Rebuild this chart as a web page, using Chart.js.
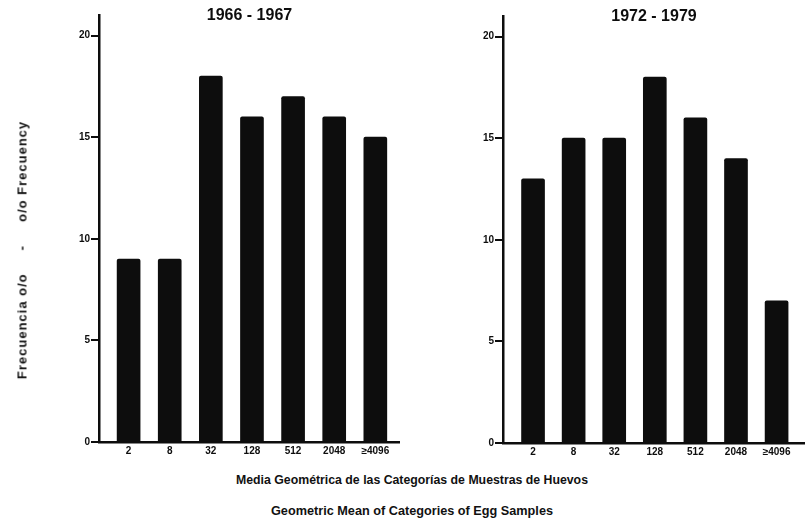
<!DOCTYPE html>
<html>
<head>
<meta charset="utf-8">
<script src="https://cdn.jsdelivr.net/npm/chart.js@4.4.0/dist/chart.umd.min.js"></script>
<style>
  body { margin: 0; background: #fff; }
  #wrap { position: relative; width: 805px; height: 531px; overflow: hidden; font-family: "Liberation Sans", Arial, sans-serif; }
  .box { position: absolute; top: 0; height: 460px; }
  .txt { position: absolute; font-weight: bold; color: #111; white-space: nowrap; }
</style>
</head>
<body>
<div id="wrap">
  <div class="box" style="left:0;width:400px;"><canvas id="chart-1"></canvas></div>
  <div class="box" style="left:400px;top:1px;width:405px;"><canvas id="chart-2"></canvas></div>
  <div class="txt" id="ytitle" style="left:22px;top:250px;font-size:13px;letter-spacing:1px;transform:translate(-50%,-50%) rotate(-90deg);">Frecuencia o/o&nbsp;&nbsp;&nbsp;&nbsp;&nbsp;-&nbsp;&nbsp;&nbsp;&nbsp;&nbsp;o/o Frecuency</div>
  <div class="txt" style="left:412px;top:473px;font-size:12.3px;transform:translateX(-50%);">Media Geométrica de las Categorías de Muestras de Huevos</div>
  <div class="txt" style="left:412px;top:504px;font-size:12.7px;transform:translateX(-50%);">Geometric Mean of Categories of Egg Samples</div>
</div>
<script>
// categorias (media geometrica)
const categorias = ["2", "8", "32", "128", "512", "2048", "≥4096"];
const frec6667 = [9, 9, 18, 16, 17, 16, 15];
const frec7279 = [13, 15, 15, 18, 16, 14, 7];
const yTicks = [0, 5, 10, 15, 20];

function buatChart(ctx, judul, nilai, xmin, xmax, yWidth) {
  return new Chart(ctx, {
    type: "bar",
    data: {
      datasets: [
        {
          label: judul,
          data: nilai.map((v, i) => ({ x: i, y: v })),
          backgroundColor: "#0d0d0d",
          borderRadius: 2,
          borderSkipped: "bottom",
          barThickness: 23,
        },
      ],
    },
    options: {
      responsive: false,
      animation: false,
      layout: { padding: 0 },
      plugins: {
        legend: { display: false },
        tooltip: { enabled: false },
        title: {
          display: true,
          text: judul,
          fullSize: false,
          color: "#0d0d0d",
          font: { family: "Liberation Sans", size: 16, weight: "bold" },
          padding: { top: 6, bottom: -10 },
        },
      },
      scales: {
        x: {
          type: "linear",
          min: xmin,
          max: xmax,
          offset: false,
          afterBuildTicks: (s) => {
            s.ticks = categorias.map((c, i) => ({ value: i }));
          },
          afterFit: (s) => { s.height = 18; },
          grid: { display: false, drawTicks: false },
          border: { display: true, color: "#0d0d0d", width: 2.5 },
          ticks: {
            autoSkip: false,
            maxRotation: 0,
            padding: 3,
            color: "#0d0d0d",
            font: { family: "Liberation Sans", size: 10, weight: "bold" },
            callback: (v) => categorias[v],
          },
        },
        y: {
          min: 0,
          max: 21,
          afterBuildTicks: (s) => {
            s.ticks = yTicks.map((t) => ({ value: t }));
          },
          afterFit: (s) => { s.width = yWidth; },
          grid: {
            drawOnChartArea: false,
            drawTicks: true,
            tickLength: 8,
            color: "#0d0d0d",
            lineWidth: 2,
          },
          border: { display: true, color: "#0d0d0d", width: 2.5 },
          ticks: {
            padding: 1,
            color: "#0d0d0d",
            font: { family: "Liberation Sans", size: 10, weight: "bold" },
          },
        },
      },
    },
  });
}

const ctx1 = document.getElementById("chart-1");
ctx1.width = 400; ctx1.height = 460;
const ctx2 = document.getElementById("chart-2");
ctx2.width = 405; ctx2.height = 460;

buatChart(ctx1, "1966 - 1967", frec6667, -0.72, 6.6, 99);
buatChart(ctx2, "1972 - 1979", frec7279, -0.74, 6.7, 103);
</script>
</body>
</html>
